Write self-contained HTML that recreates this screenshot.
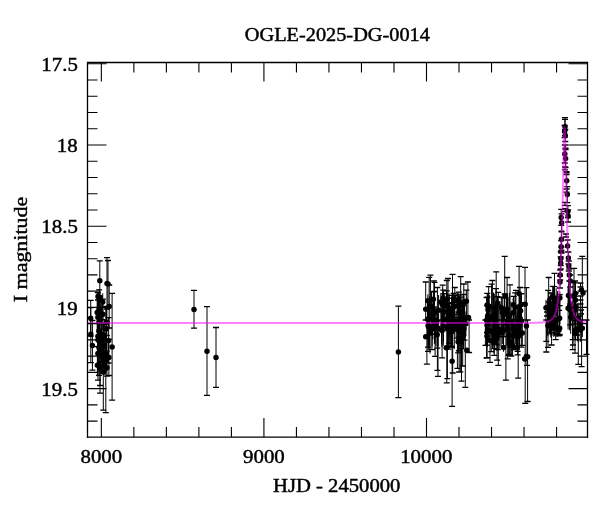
<!DOCTYPE html><html><head><meta charset="utf-8"><style>html,body{margin:0;padding:0;background:#fff;width:600px;height:512px;overflow:hidden}svg{display:block}text{font-family:"Liberation Serif",serif;fill:#000;stroke:#000;stroke-width:0.45}</style></head><body><svg width="600" height="512" viewBox="0 0 600 512"><rect width="600" height="512" fill="#fff"/><path d="M194.00,290.40V328.20M207.00,306.60V395.30M216.00,327.50V387.30M398.40,306.20V397.70M99.80,260.90V300.50M107.00,257.60V309.20M108.00,260.50V307.50M112.10,293.40V400.10M90.70,300.40V336.00M90.80,307.60V362.60M92.40,320.50V370.20M108.60,317.60V363.00M108.90,339.30V375.50M109.20,285.00V328.00M103.30,333.90V410.10M105.80,307.30V412.70M100.00,307.00V393.10M100.00,305.00V385.50M98.00,300.00V380.20M98.85,307.57V354.24M103.54,323.95V353.62M102.19,319.67V361.66M106.98,340.55V376.11M106.80,308.89V335.52M97.87,292.55V346.63M99.13,289.97V337.54M106.59,306.42V351.11M98.97,336.33V375.47M102.96,299.14V329.46M102.59,333.72V372.50M430.40,275.20V320.00M429.20,277.40V320.00M425.70,282.00V320.00M433.90,280.90V320.00M434.50,282.30V320.00M437.40,287.50V320.00M442.70,285.20V320.00M448.00,278.50V320.00M446.80,280.50V320.00M452.50,274.40V320.00M454.80,287.50V320.00M460.70,276.60V320.00M463.80,284.00V320.00M467.90,282.00V320.00M426.90,320.00V364.20M428.00,320.00V347.20M428.00,320.00V351.30M435.10,320.00V356.30M437.40,320.00V370.30M442.10,320.00V357.80M452.70,320.00V373.00M457.40,320.00V368.30M462.70,320.00V366.00M469.10,320.00V352.50M460.30,320.00V371.90M438.00,320.00V376.40M447.40,320.00V378.70M446.80,320.00V382.80M452.10,320.00V406.30M461.50,320.00V381.10M465.30,320.00V387.30M459.10,320.00V372.00M460.57,297.03V326.61M431.95,304.48V349.68M451.80,302.62V333.17M448.59,303.90V349.17M457.04,306.49V338.21M453.66,293.40V314.59M449.10,295.36V343.39M450.58,306.41V346.10M451.48,298.22V346.48M458.90,304.59V337.20M458.80,292.10V317.73M433.37,291.89V326.39M463.16,294.52V331.48M453.60,295.12V322.64M451.88,306.23V347.26M444.24,293.71V318.35M454.49,295.91V321.73M446.69,290.96V320.60M459.08,294.80V331.86M466.39,290.04V319.65M434.45,291.51V334.24M461.39,303.36V348.62M443.25,290.11V329.84M464.53,300.15V340.14M458.14,304.19V352.96M458.86,312.39V350.77M437.20,321.19V348.07M504.70,256.40V320.00M496.20,271.90V320.00M519.10,266.40V320.00M525.00,267.40V320.00M492.40,280.50V320.00M491.60,284.20V320.00M488.70,286.60V320.00M507.10,277.50V320.00M510.00,284.80V320.00M520.00,287.50V320.00M526.40,287.70V320.00M496.00,288.70V320.00M498.30,292.40V320.00M515.90,290.40V320.00M486.60,297.50V320.00M504.70,294.00V320.00M485.40,320.00V345.40M486.60,320.00V358.00M490.00,320.00V362.40M491.20,320.00V351.70M494.80,320.00V348.60M497.10,320.00V360.10M507.70,320.00V358.90M508.80,320.00V355.40M511.20,320.00V356.00M517.60,320.00V351.30M522.30,320.00V345.40M487.10,320.00V357.60M498.30,320.00V365.30M505.90,320.00V380.20M518.20,320.00V378.10M525.20,320.00V403.30M527.60,320.00V401.50M527.00,320.00V365.30M487.57,297.04V335.98M518.65,305.68V336.11M521.37,293.77V347.11M487.19,293.29V332.59M487.06,305.51V345.18M501.33,297.08V336.76M520.17,304.95V332.00M515.15,292.96V323.38M497.51,296.71V324.62M502.29,297.52V327.99M513.54,296.30V319.79M513.89,305.86V349.66M496.38,310.70V344.52M497.74,304.72V349.61M504.20,297.91V336.61M517.58,307.16V354.90M508.92,316.48V354.41M494.27,320.22V355.44M510.92,321.74V355.83M509.65,321.66V355.26M548.70,277.50V320.00M554.50,273.40V320.00M548.10,290.40V320.00M546.30,320.00V352.00M546.30,320.00V341.40M548.00,320.00V347.30M551.60,320.00V345.00M555.70,320.00V339.70M557.40,320.00V333.80M559.62,294.75V335.40M556.03,297.62V333.72M559.05,310.33V335.92M554.32,286.64V318.24M559.66,305.68V334.41M552.83,286.45V317.82M551.00,293.00V297.00M556.00,297.00V301.00M549.00,302.00V306.00M553.00,307.00V311.00M547.00,312.00V316.00M552.00,318.00V322.00M550.56,299.11V332.61M574.00,268.30V320.00M575.00,281.00V320.00M582.30,256.30V320.00M572.70,320.00V339.70M572.70,320.00V349.60M575.00,320.00V353.10M578.30,320.00V364.30M581.60,320.00V366.60M577.00,320.00V335.00M573.00,320.00V345.00M586.50,320.00V354.30M570.20,294.99V324.80M575.42,282.78V318.18M574.41,296.64V324.16M573.02,282.06V317.45M575.38,308.85V339.56M576.05,292.95V320.75M580.50,283.00V287.00M580.50,296.00V300.00M580.50,300.00V304.00M581.00,310.00V314.00M580.00,316.00V320.00M579.50,324.00V328.00M565.00,117.70V135.70M564.60,125.50V137.50M565.30,129.50V141.50M564.80,145.00V163.00M565.60,149.50V167.50M566.70,172.80V188.80M567.30,186.60V202.60M567.90,205.60V217.60M568.10,210.00V222.00M561.20,209.40V225.40M561.60,213.80V231.80M561.40,231.20V247.20M561.20,240.70V252.70M567.60,240.00V252.00M560.80,251.50V265.50M568.40,252.00V264.00M560.70,257.00V269.00M568.80,261.00V271.00M560.20,270.00V280.00M569.30,269.00V281.00M560.00,276.00V288.00M570.30,275.00V287.00M565.00,119.30V130.00M565.50,145.20V148.20M565.00,166.90V169.90M566.50,171.60V174.60M566.50,189.20V192.20M565.00,202.30V205.30M565.00,208.60V211.60M566.00,234.00V237.00M561.50,250.10V253.10M101.52,305.91V363.18M97.91,329.05V372.11M98.90,297.85V322.93M99.89,290.40V323.13M106.58,344.39V368.41M98.01,289.07V322.90M98.91,333.27V361.98M99.13,292.82V341.98M99.11,294.59V349.34M97.90,319.91V352.66M106.08,337.66V370.64M97.39,348.87V376.46M97.17,292.44V332.48M102.72,293.35V320.52M103.91,321.89V350.94M104.01,352.79V375.11M100.19,354.60V373.58M104.37,319.20V371.76M106.01,338.69V372.82M442.24,295.48V319.29M449.12,293.46V334.98M453.19,305.28V331.42M460.64,294.39V328.84M432.84,300.71V339.37M427.87,294.37V321.11M428.58,299.31V349.34M432.11,304.21V346.35M460.94,314.27V345.60M443.42,291.66V341.62M438.08,310.44V346.17M436.13,306.21V334.47M456.11,310.92V337.50M454.27,300.88V349.09M434.30,299.77V326.37M429.17,300.83V349.84M434.82,307.11V342.71M435.87,306.17V346.07M428.08,308.77V342.53M442.43,293.52V324.19M449.71,306.53V337.36M459.11,306.82V346.62M429.67,296.07V345.49M460.47,295.84V331.26M462.85,299.57V344.90M440.83,292.83V330.25M446.35,293.19V329.44M460.82,314.32V346.73M427.49,303.12V335.53M445.01,306.90V332.26M433.92,297.57V324.74M462.73,301.78V345.12M465.88,311.42V336.00M463.92,300.96V347.69M441.82,301.85V346.88M449.22,303.52V349.46M441.59,315.56V344.31M447.38,292.88V329.27M457.55,292.68V315.05M431.47,291.44V323.12M447.61,306.90V345.98M463.98,296.32V338.45M443.33,296.77V345.73M438.61,295.02V330.08M434.41,297.16V343.87M443.08,293.25V318.52M452.02,313.45V347.35M461.12,311.80V350.99M429.96,309.48V353.68M463.46,321.72V349.05M458.06,320.02V352.73M495.52,304.17V334.00M519.42,296.39V344.52M507.51,294.42V343.63M487.99,296.89V330.41M499.85,301.18V348.84M502.34,311.35V344.08M515.91,308.47V344.08M513.71,296.98V345.28M519.62,302.76V345.12M516.07,319.39V344.38M507.30,293.86V345.63M494.46,324.22V346.79M509.39,292.67V342.17M487.39,300.90V346.66M520.58,296.01V335.43M487.59,312.44V344.08M501.10,313.63V346.57M511.01,301.64V340.36M513.78,299.60V325.36M487.11,322.93V346.79M491.95,314.41V344.44M506.87,295.77V346.31M492.59,310.20V349.07M521.43,295.39V325.60M508.13,296.92V347.86M503.51,309.25V349.90M493.50,292.50V344.06M506.52,301.98V327.12M489.18,294.92V318.63M507.22,308.21V344.97M487.92,294.09V336.48M513.34,303.41V346.33M513.80,320.44V347.90M494.57,309.38V344.05M493.92,297.33V335.62M488.05,293.02V324.45M490.31,305.97V330.27M516.26,315.07V348.61M495.01,308.66V344.77M496.85,299.98V345.70M487.63,305.92V336.13M494.70,293.64V330.59M494.72,307.96V344.00M513.15,298.25V327.31M506.87,296.82V321.61M519.35,310.65V350.35M496.92,312.56V350.86M516.86,324.95V350.71M493.86,325.26V353.42M512.33,330.45V350.88M503.59,320.75V351.88M512.59,325.17V355.54M554.43,287.92V336.07M554.32,287.98V324.95M557.47,291.88V320.52M553.30,288.21V310.01M550.83,292.51V335.07M553.17,286.61V316.21M556.17,288.21V336.71M559.87,291.63V323.74M553.85,300.33V336.93M557.60,291.05V316.78M550.79,298.91V337.48M545.98,299.77V321.00M547.89,297.97V336.36M557.65,300.29V336.63M549.44,296.71V334.53M552.95,308.87V335.78M549.52,300.40V333.82M547.61,300.94V335.27M557.46,298.41V321.77M575.35,281.43V322.95M568.10,286.82V329.49M568.44,283.27V308.84M569.61,281.68V330.33M572.18,301.13V325.62M575.15,306.22V338.61M570.09,282.06V329.41M570.68,300.52V333.86M575.33,313.40V340.59M580.29,304.01V341.90M582.34,301.86V337.08M577.33,310.06V341.50M577.77,302.78V340.72" stroke="#000" stroke-width="1.0" fill="none"/><path d="M191.00,290.40h6M191.00,328.20h6M204.00,306.60h6M204.00,395.30h6M213.00,327.50h6M213.00,387.30h6M395.40,306.20h6M395.40,397.70h6M96.80,260.90h6M96.80,300.50h6M104.00,257.60h6M104.00,309.20h6M105.00,260.50h6M105.00,307.50h6M109.10,293.40h6M109.10,400.10h6M87.70,300.40h6M87.70,336.00h6M87.80,307.60h6M87.80,362.60h6M89.40,320.50h6M89.40,370.20h6M105.60,317.60h6M105.60,363.00h6M105.90,339.30h6M105.90,375.50h6M106.20,285.00h6M106.20,328.00h6M100.30,333.90h6M100.30,410.10h6M102.80,307.30h6M102.80,412.70h6M97.00,307.00h6M97.00,393.10h6M97.00,305.00h6M97.00,385.50h6M95.00,300.00h6M95.00,380.20h6M95.85,307.57h6M95.85,354.24h6M100.54,323.95h6M100.54,353.62h6M99.19,319.67h6M99.19,361.66h6M103.98,340.55h6M103.98,376.11h6M103.80,308.89h6M103.80,335.52h6M94.87,292.55h6M94.87,346.63h6M96.13,289.97h6M96.13,337.54h6M103.59,306.42h6M103.59,351.11h6M95.97,336.33h6M95.97,375.47h6M99.96,299.14h6M99.96,329.46h6M99.59,333.72h6M99.59,372.50h6M427.40,275.20h6M427.40,320.00h6M426.20,277.40h6M426.20,320.00h6M422.70,282.00h6M422.70,320.00h6M430.90,280.90h6M430.90,320.00h6M431.50,282.30h6M431.50,320.00h6M434.40,287.50h6M434.40,320.00h6M439.70,285.20h6M439.70,320.00h6M445.00,278.50h6M445.00,320.00h6M443.80,280.50h6M443.80,320.00h6M449.50,274.40h6M449.50,320.00h6M451.80,287.50h6M451.80,320.00h6M457.70,276.60h6M457.70,320.00h6M460.80,284.00h6M460.80,320.00h6M464.90,282.00h6M464.90,320.00h6M423.90,320.00h6M423.90,364.20h6M425.00,320.00h6M425.00,347.20h6M425.00,320.00h6M425.00,351.30h6M432.10,320.00h6M432.10,356.30h6M434.40,320.00h6M434.40,370.30h6M439.10,320.00h6M439.10,357.80h6M449.70,320.00h6M449.70,373.00h6M454.40,320.00h6M454.40,368.30h6M459.70,320.00h6M459.70,366.00h6M466.10,320.00h6M466.10,352.50h6M457.30,320.00h6M457.30,371.90h6M435.00,320.00h6M435.00,376.40h6M444.40,320.00h6M444.40,378.70h6M443.80,320.00h6M443.80,382.80h6M449.10,320.00h6M449.10,406.30h6M458.50,320.00h6M458.50,381.10h6M462.30,320.00h6M462.30,387.30h6M456.10,320.00h6M456.10,372.00h6M457.57,297.03h6M457.57,326.61h6M428.95,304.48h6M428.95,349.68h6M448.80,302.62h6M448.80,333.17h6M445.59,303.90h6M445.59,349.17h6M454.04,306.49h6M454.04,338.21h6M450.66,293.40h6M450.66,314.59h6M446.10,295.36h6M446.10,343.39h6M447.58,306.41h6M447.58,346.10h6M448.48,298.22h6M448.48,346.48h6M455.90,304.59h6M455.90,337.20h6M455.80,292.10h6M455.80,317.73h6M430.37,291.89h6M430.37,326.39h6M460.16,294.52h6M460.16,331.48h6M450.60,295.12h6M450.60,322.64h6M448.88,306.23h6M448.88,347.26h6M441.24,293.71h6M441.24,318.35h6M451.49,295.91h6M451.49,321.73h6M443.69,290.96h6M443.69,320.60h6M456.08,294.80h6M456.08,331.86h6M463.39,290.04h6M463.39,319.65h6M431.45,291.51h6M431.45,334.24h6M458.39,303.36h6M458.39,348.62h6M440.25,290.11h6M440.25,329.84h6M461.53,300.15h6M461.53,340.14h6M455.14,304.19h6M455.14,352.96h6M455.86,312.39h6M455.86,350.77h6M434.20,321.19h6M434.20,348.07h6M501.70,256.40h6M501.70,320.00h6M493.20,271.90h6M493.20,320.00h6M516.10,266.40h6M516.10,320.00h6M522.00,267.40h6M522.00,320.00h6M489.40,280.50h6M489.40,320.00h6M488.60,284.20h6M488.60,320.00h6M485.70,286.60h6M485.70,320.00h6M504.10,277.50h6M504.10,320.00h6M507.00,284.80h6M507.00,320.00h6M517.00,287.50h6M517.00,320.00h6M523.40,287.70h6M523.40,320.00h6M493.00,288.70h6M493.00,320.00h6M495.30,292.40h6M495.30,320.00h6M512.90,290.40h6M512.90,320.00h6M483.60,297.50h6M483.60,320.00h6M501.70,294.00h6M501.70,320.00h6M482.40,320.00h6M482.40,345.40h6M483.60,320.00h6M483.60,358.00h6M487.00,320.00h6M487.00,362.40h6M488.20,320.00h6M488.20,351.70h6M491.80,320.00h6M491.80,348.60h6M494.10,320.00h6M494.10,360.10h6M504.70,320.00h6M504.70,358.90h6M505.80,320.00h6M505.80,355.40h6M508.20,320.00h6M508.20,356.00h6M514.60,320.00h6M514.60,351.30h6M519.30,320.00h6M519.30,345.40h6M484.10,320.00h6M484.10,357.60h6M495.30,320.00h6M495.30,365.30h6M502.90,320.00h6M502.90,380.20h6M515.20,320.00h6M515.20,378.10h6M522.20,320.00h6M522.20,403.30h6M524.60,320.00h6M524.60,401.50h6M524.00,320.00h6M524.00,365.30h6M484.57,297.04h6M484.57,335.98h6M515.65,305.68h6M515.65,336.11h6M518.37,293.77h6M518.37,347.11h6M484.19,293.29h6M484.19,332.59h6M484.06,305.51h6M484.06,345.18h6M498.33,297.08h6M498.33,336.76h6M517.17,304.95h6M517.17,332.00h6M512.15,292.96h6M512.15,323.38h6M494.51,296.71h6M494.51,324.62h6M499.29,297.52h6M499.29,327.99h6M510.54,296.30h6M510.54,319.79h6M510.89,305.86h6M510.89,349.66h6M493.38,310.70h6M493.38,344.52h6M494.74,304.72h6M494.74,349.61h6M501.20,297.91h6M501.20,336.61h6M514.58,307.16h6M514.58,354.90h6M505.92,316.48h6M505.92,354.41h6M491.27,320.22h6M491.27,355.44h6M507.92,321.74h6M507.92,355.83h6M506.65,321.66h6M506.65,355.26h6M545.70,277.50h6M545.70,320.00h6M551.50,273.40h6M551.50,320.00h6M545.10,290.40h6M545.10,320.00h6M543.30,320.00h6M543.30,352.00h6M543.30,320.00h6M543.30,341.40h6M545.00,320.00h6M545.00,347.30h6M548.60,320.00h6M548.60,345.00h6M552.70,320.00h6M552.70,339.70h6M554.40,320.00h6M554.40,333.80h6M556.62,294.75h6M556.62,335.40h6M553.03,297.62h6M553.03,333.72h6M556.05,310.33h6M556.05,335.92h6M551.32,286.64h6M551.32,318.24h6M556.66,305.68h6M556.66,334.41h6M549.83,286.45h6M549.83,317.82h6M548.00,293.00h6M548.00,297.00h6M553.00,297.00h6M553.00,301.00h6M546.00,302.00h6M546.00,306.00h6M550.00,307.00h6M550.00,311.00h6M544.00,312.00h6M544.00,316.00h6M549.00,318.00h6M549.00,322.00h6M547.56,299.11h6M547.56,332.61h6M571.00,268.30h6M571.00,320.00h6M572.00,281.00h6M572.00,320.00h6M579.30,256.30h6M579.30,320.00h6M569.70,320.00h6M569.70,339.70h6M569.70,320.00h6M569.70,349.60h6M572.00,320.00h6M572.00,353.10h6M575.30,320.00h6M575.30,364.30h6M578.60,320.00h6M578.60,366.60h6M574.00,320.00h6M574.00,335.00h6M570.00,320.00h6M570.00,345.00h6M583.50,320.00h6M583.50,354.30h6M567.20,294.99h6M567.20,324.80h6M572.42,282.78h6M572.42,318.18h6M571.41,296.64h6M571.41,324.16h6M570.02,282.06h6M570.02,317.45h6M572.38,308.85h6M572.38,339.56h6M573.05,292.95h6M573.05,320.75h6M577.50,283.00h6M577.50,287.00h6M577.50,296.00h6M577.50,300.00h6M577.50,300.00h6M577.50,304.00h6M578.00,310.00h6M578.00,314.00h6M577.00,316.00h6M577.00,320.00h6M576.50,324.00h6M576.50,328.00h6M562.00,117.70h6M562.00,135.70h6M561.60,125.50h6M561.60,137.50h6M562.30,129.50h6M562.30,141.50h6M561.80,145.00h6M561.80,163.00h6M562.60,149.50h6M562.60,167.50h6M563.70,172.80h6M563.70,188.80h6M564.30,186.60h6M564.30,202.60h6M564.90,205.60h6M564.90,217.60h6M565.10,210.00h6M565.10,222.00h6M558.20,209.40h6M558.20,225.40h6M558.60,213.80h6M558.60,231.80h6M558.40,231.20h6M558.40,247.20h6M558.20,240.70h6M558.20,252.70h6M564.60,240.00h6M564.60,252.00h6M557.80,251.50h6M557.80,265.50h6M565.40,252.00h6M565.40,264.00h6M557.70,257.00h6M557.70,269.00h6M565.80,261.00h6M565.80,271.00h6M557.20,270.00h6M557.20,280.00h6M566.30,269.00h6M566.30,281.00h6M557.00,276.00h6M557.00,288.00h6M567.30,275.00h6M567.30,287.00h6M562.00,119.30h6M562.00,130.00h6M562.50,145.20h6M562.50,148.20h6M562.00,166.90h6M562.00,169.90h6M563.50,171.60h6M563.50,174.60h6M563.50,189.20h6M563.50,192.20h6M562.00,202.30h6M562.00,205.30h6M562.00,208.60h6M562.00,211.60h6M563.00,234.00h6M563.00,237.00h6M558.50,250.10h6M558.50,253.10h6" stroke="#000" stroke-width="1.3" fill="none"/><path d="M191.25,309.40a2.75,2.75 0 1,0 5.5,0a2.75,2.75 0 1,0 -5.5,0M204.25,351.20a2.75,2.75 0 1,0 5.5,0a2.75,2.75 0 1,0 -5.5,0M213.25,357.50a2.75,2.75 0 1,0 5.5,0a2.75,2.75 0 1,0 -5.5,0M395.65,351.90a2.75,2.75 0 1,0 5.5,0a2.75,2.75 0 1,0 -5.5,0M97.05,280.70a2.75,2.75 0 1,0 5.5,0a2.75,2.75 0 1,0 -5.5,0M104.25,283.40a2.75,2.75 0 1,0 5.5,0a2.75,2.75 0 1,0 -5.5,0M105.25,284.00a2.75,2.75 0 1,0 5.5,0a2.75,2.75 0 1,0 -5.5,0M109.35,346.90a2.75,2.75 0 1,0 5.5,0a2.75,2.75 0 1,0 -5.5,0M87.95,318.20a2.75,2.75 0 1,0 5.5,0a2.75,2.75 0 1,0 -5.5,0M88.05,334.20a2.75,2.75 0 1,0 5.5,0a2.75,2.75 0 1,0 -5.5,0M89.65,345.50a2.75,2.75 0 1,0 5.5,0a2.75,2.75 0 1,0 -5.5,0M105.85,340.40a2.75,2.75 0 1,0 5.5,0a2.75,2.75 0 1,0 -5.5,0M106.15,357.40a2.75,2.75 0 1,0 5.5,0a2.75,2.75 0 1,0 -5.5,0M106.45,306.40a2.75,2.75 0 1,0 5.5,0a2.75,2.75 0 1,0 -5.5,0M100.55,372.00a2.75,2.75 0 1,0 5.5,0a2.75,2.75 0 1,0 -5.5,0M103.05,360.00a2.75,2.75 0 1,0 5.5,0a2.75,2.75 0 1,0 -5.5,0M97.25,350.00a2.75,2.75 0 1,0 5.5,0a2.75,2.75 0 1,0 -5.5,0M97.25,345.00a2.75,2.75 0 1,0 5.5,0a2.75,2.75 0 1,0 -5.5,0M95.25,340.00a2.75,2.75 0 1,0 5.5,0a2.75,2.75 0 1,0 -5.5,0M98.77,334.54a2.75,2.75 0 1,0 5.5,0a2.75,2.75 0 1,0 -5.5,0M96.10,330.91a2.75,2.75 0 1,0 5.5,0a2.75,2.75 0 1,0 -5.5,0M95.16,353.53a2.75,2.75 0 1,0 5.5,0a2.75,2.75 0 1,0 -5.5,0M100.79,338.78a2.75,2.75 0 1,0 5.5,0a2.75,2.75 0 1,0 -5.5,0M96.15,310.39a2.75,2.75 0 1,0 5.5,0a2.75,2.75 0 1,0 -5.5,0M99.44,340.66a2.75,2.75 0 1,0 5.5,0a2.75,2.75 0 1,0 -5.5,0M104.23,367.67a2.75,2.75 0 1,0 5.5,0a2.75,2.75 0 1,0 -5.5,0M97.14,297.34a2.75,2.75 0 1,0 5.5,0a2.75,2.75 0 1,0 -5.5,0M103.83,356.40a2.75,2.75 0 1,0 5.5,0a2.75,2.75 0 1,0 -5.5,0M104.05,322.20a2.75,2.75 0 1,0 5.5,0a2.75,2.75 0 1,0 -5.5,0M95.12,317.28a2.75,2.75 0 1,0 5.5,0a2.75,2.75 0 1,0 -5.5,0M95.26,296.55a2.75,2.75 0 1,0 5.5,0a2.75,2.75 0 1,0 -5.5,0M96.16,347.62a2.75,2.75 0 1,0 5.5,0a2.75,2.75 0 1,0 -5.5,0M96.38,312.50a2.75,2.75 0 1,0 5.5,0a2.75,2.75 0 1,0 -5.5,0M96.36,321.96a2.75,2.75 0 1,0 5.5,0a2.75,2.75 0 1,0 -5.5,0M96.38,311.63a2.75,2.75 0 1,0 5.5,0a2.75,2.75 0 1,0 -5.5,0M95.15,336.29a2.75,2.75 0 1,0 5.5,0a2.75,2.75 0 1,0 -5.5,0M103.84,328.76a2.75,2.75 0 1,0 5.5,0a2.75,2.75 0 1,0 -5.5,0M103.33,354.15a2.75,2.75 0 1,0 5.5,0a2.75,2.75 0 1,0 -5.5,0M96.22,364.21a2.75,2.75 0 1,0 5.5,0a2.75,2.75 0 1,0 -5.5,0M94.64,365.16a2.75,2.75 0 1,0 5.5,0a2.75,2.75 0 1,0 -5.5,0M100.21,314.30a2.75,2.75 0 1,0 5.5,0a2.75,2.75 0 1,0 -5.5,0M99.84,356.78a2.75,2.75 0 1,0 5.5,0a2.75,2.75 0 1,0 -5.5,0M94.42,312.46a2.75,2.75 0 1,0 5.5,0a2.75,2.75 0 1,0 -5.5,0M99.97,302.00a2.75,2.75 0 1,0 5.5,0a2.75,2.75 0 1,0 -5.5,0M101.16,336.42a2.75,2.75 0 1,0 5.5,0a2.75,2.75 0 1,0 -5.5,0M101.26,365.17a2.75,2.75 0 1,0 5.5,0a2.75,2.75 0 1,0 -5.5,0M97.44,367.95a2.75,2.75 0 1,0 5.5,0a2.75,2.75 0 1,0 -5.5,0M101.62,345.48a2.75,2.75 0 1,0 5.5,0a2.75,2.75 0 1,0 -5.5,0M103.26,358.20a2.75,2.75 0 1,0 5.5,0a2.75,2.75 0 1,0 -5.5,0M422.95,309.20a2.75,2.75 0 1,0 5.5,0a2.75,2.75 0 1,0 -5.5,0M465.75,317.40a2.75,2.75 0 1,0 5.5,0a2.75,2.75 0 1,0 -5.5,0M422.95,336.70a2.75,2.75 0 1,0 5.5,0a2.75,2.75 0 1,0 -5.5,0M449.35,361.30a2.75,2.75 0 1,0 5.5,0a2.75,2.75 0 1,0 -5.5,0M443.45,347.80a2.75,2.75 0 1,0 5.5,0a2.75,2.75 0 1,0 -5.5,0M464.05,350.20a2.75,2.75 0 1,0 5.5,0a2.75,2.75 0 1,0 -5.5,0M439.49,304.31a2.75,2.75 0 1,0 5.5,0a2.75,2.75 0 1,0 -5.5,0M446.37,309.81a2.75,2.75 0 1,0 5.5,0a2.75,2.75 0 1,0 -5.5,0M457.82,311.82a2.75,2.75 0 1,0 5.5,0a2.75,2.75 0 1,0 -5.5,0M450.44,318.35a2.75,2.75 0 1,0 5.5,0a2.75,2.75 0 1,0 -5.5,0M457.89,303.77a2.75,2.75 0 1,0 5.5,0a2.75,2.75 0 1,0 -5.5,0M429.20,328.88a2.75,2.75 0 1,0 5.5,0a2.75,2.75 0 1,0 -5.5,0M449.05,317.90a2.75,2.75 0 1,0 5.5,0a2.75,2.75 0 1,0 -5.5,0M430.09,320.04a2.75,2.75 0 1,0 5.5,0a2.75,2.75 0 1,0 -5.5,0M425.12,300.86a2.75,2.75 0 1,0 5.5,0a2.75,2.75 0 1,0 -5.5,0M445.84,327.69a2.75,2.75 0 1,0 5.5,0a2.75,2.75 0 1,0 -5.5,0M425.83,327.05a2.75,2.75 0 1,0 5.5,0a2.75,2.75 0 1,0 -5.5,0M429.36,328.01a2.75,2.75 0 1,0 5.5,0a2.75,2.75 0 1,0 -5.5,0M458.19,330.62a2.75,2.75 0 1,0 5.5,0a2.75,2.75 0 1,0 -5.5,0M440.67,312.20a2.75,2.75 0 1,0 5.5,0a2.75,2.75 0 1,0 -5.5,0M435.33,328.31a2.75,2.75 0 1,0 5.5,0a2.75,2.75 0 1,0 -5.5,0M454.29,322.35a2.75,2.75 0 1,0 5.5,0a2.75,2.75 0 1,0 -5.5,0M450.91,298.32a2.75,2.75 0 1,0 5.5,0a2.75,2.75 0 1,0 -5.5,0M433.38,320.34a2.75,2.75 0 1,0 5.5,0a2.75,2.75 0 1,0 -5.5,0M446.35,313.92a2.75,2.75 0 1,0 5.5,0a2.75,2.75 0 1,0 -5.5,0M447.83,329.90a2.75,2.75 0 1,0 5.5,0a2.75,2.75 0 1,0 -5.5,0M453.36,324.21a2.75,2.75 0 1,0 5.5,0a2.75,2.75 0 1,0 -5.5,0M451.52,329.19a2.75,2.75 0 1,0 5.5,0a2.75,2.75 0 1,0 -5.5,0M448.73,325.86a2.75,2.75 0 1,0 5.5,0a2.75,2.75 0 1,0 -5.5,0M456.15,320.90a2.75,2.75 0 1,0 5.5,0a2.75,2.75 0 1,0 -5.5,0M431.55,313.07a2.75,2.75 0 1,0 5.5,0a2.75,2.75 0 1,0 -5.5,0M426.42,325.73a2.75,2.75 0 1,0 5.5,0a2.75,2.75 0 1,0 -5.5,0M432.07,324.91a2.75,2.75 0 1,0 5.5,0a2.75,2.75 0 1,0 -5.5,0M433.12,327.42a2.75,2.75 0 1,0 5.5,0a2.75,2.75 0 1,0 -5.5,0M425.33,325.65a2.75,2.75 0 1,0 5.5,0a2.75,2.75 0 1,0 -5.5,0M439.68,302.70a2.75,2.75 0 1,0 5.5,0a2.75,2.75 0 1,0 -5.5,0M446.96,321.95a2.75,2.75 0 1,0 5.5,0a2.75,2.75 0 1,0 -5.5,0M456.36,326.72a2.75,2.75 0 1,0 5.5,0a2.75,2.75 0 1,0 -5.5,0M426.92,326.07a2.75,2.75 0 1,0 5.5,0a2.75,2.75 0 1,0 -5.5,0M456.05,299.06a2.75,2.75 0 1,0 5.5,0a2.75,2.75 0 1,0 -5.5,0M430.62,299.22a2.75,2.75 0 1,0 5.5,0a2.75,2.75 0 1,0 -5.5,0M457.72,303.02a2.75,2.75 0 1,0 5.5,0a2.75,2.75 0 1,0 -5.5,0M460.10,328.92a2.75,2.75 0 1,0 5.5,0a2.75,2.75 0 1,0 -5.5,0M438.08,302.05a2.75,2.75 0 1,0 5.5,0a2.75,2.75 0 1,0 -5.5,0M443.60,305.09a2.75,2.75 0 1,0 5.5,0a2.75,2.75 0 1,0 -5.5,0M460.41,304.85a2.75,2.75 0 1,0 5.5,0a2.75,2.75 0 1,0 -5.5,0M450.85,306.13a2.75,2.75 0 1,0 5.5,0a2.75,2.75 0 1,0 -5.5,0M458.07,331.82a2.75,2.75 0 1,0 5.5,0a2.75,2.75 0 1,0 -5.5,0M424.74,319.33a2.75,2.75 0 1,0 5.5,0a2.75,2.75 0 1,0 -5.5,0M442.26,319.58a2.75,2.75 0 1,0 5.5,0a2.75,2.75 0 1,0 -5.5,0M431.17,311.16a2.75,2.75 0 1,0 5.5,0a2.75,2.75 0 1,0 -5.5,0M449.13,331.34a2.75,2.75 0 1,0 5.5,0a2.75,2.75 0 1,0 -5.5,0M459.98,328.26a2.75,2.75 0 1,0 5.5,0a2.75,2.75 0 1,0 -5.5,0M463.13,323.71a2.75,2.75 0 1,0 5.5,0a2.75,2.75 0 1,0 -5.5,0M441.49,305.74a2.75,2.75 0 1,0 5.5,0a2.75,2.75 0 1,0 -5.5,0M461.17,328.52a2.75,2.75 0 1,0 5.5,0a2.75,2.75 0 1,0 -5.5,0M439.07,330.40a2.75,2.75 0 1,0 5.5,0a2.75,2.75 0 1,0 -5.5,0M451.74,306.41a2.75,2.75 0 1,0 5.5,0a2.75,2.75 0 1,0 -5.5,0M443.94,299.18a2.75,2.75 0 1,0 5.5,0a2.75,2.75 0 1,0 -5.5,0M456.33,305.67a2.75,2.75 0 1,0 5.5,0a2.75,2.75 0 1,0 -5.5,0M463.64,301.33a2.75,2.75 0 1,0 5.5,0a2.75,2.75 0 1,0 -5.5,0M446.47,329.59a2.75,2.75 0 1,0 5.5,0a2.75,2.75 0 1,0 -5.5,0M438.84,330.18a2.75,2.75 0 1,0 5.5,0a2.75,2.75 0 1,0 -5.5,0M431.70,312.47a2.75,2.75 0 1,0 5.5,0a2.75,2.75 0 1,0 -5.5,0M444.63,310.97a2.75,2.75 0 1,0 5.5,0a2.75,2.75 0 1,0 -5.5,0M454.80,301.33a2.75,2.75 0 1,0 5.5,0a2.75,2.75 0 1,0 -5.5,0M458.64,330.06a2.75,2.75 0 1,0 5.5,0a2.75,2.75 0 1,0 -5.5,0M428.72,306.43a2.75,2.75 0 1,0 5.5,0a2.75,2.75 0 1,0 -5.5,0M444.86,328.39a2.75,2.75 0 1,0 5.5,0a2.75,2.75 0 1,0 -5.5,0M461.23,317.38a2.75,2.75 0 1,0 5.5,0a2.75,2.75 0 1,0 -5.5,0M440.50,300.70a2.75,2.75 0 1,0 5.5,0a2.75,2.75 0 1,0 -5.5,0M440.58,326.12a2.75,2.75 0 1,0 5.5,0a2.75,2.75 0 1,0 -5.5,0M435.86,310.28a2.75,2.75 0 1,0 5.5,0a2.75,2.75 0 1,0 -5.5,0M431.66,320.51a2.75,2.75 0 1,0 5.5,0a2.75,2.75 0 1,0 -5.5,0M440.33,298.06a2.75,2.75 0 1,0 5.5,0a2.75,2.75 0 1,0 -5.5,0M461.78,320.15a2.75,2.75 0 1,0 5.5,0a2.75,2.75 0 1,0 -5.5,0M449.27,330.40a2.75,2.75 0 1,0 5.5,0a2.75,2.75 0 1,0 -5.5,0M458.37,331.39a2.75,2.75 0 1,0 5.5,0a2.75,2.75 0 1,0 -5.5,0M427.21,333.18a2.75,2.75 0 1,0 5.5,0a2.75,2.75 0 1,0 -5.5,0M455.39,330.10a2.75,2.75 0 1,0 5.5,0a2.75,2.75 0 1,0 -5.5,0M460.71,335.39a2.75,2.75 0 1,0 5.5,0a2.75,2.75 0 1,0 -5.5,0M455.31,341.68a2.75,2.75 0 1,0 5.5,0a2.75,2.75 0 1,0 -5.5,0M456.11,339.90a2.75,2.75 0 1,0 5.5,0a2.75,2.75 0 1,0 -5.5,0M434.45,334.63a2.75,2.75 0 1,0 5.5,0a2.75,2.75 0 1,0 -5.5,0M516.35,293.60a2.75,2.75 0 1,0 5.5,0a2.75,2.75 0 1,0 -5.5,0M522.45,304.20a2.75,2.75 0 1,0 5.5,0a2.75,2.75 0 1,0 -5.5,0M502.25,296.00a2.75,2.75 0 1,0 5.5,0a2.75,2.75 0 1,0 -5.5,0M483.85,320.20a2.75,2.75 0 1,0 5.5,0a2.75,2.75 0 1,0 -5.5,0M484.35,332.50a2.75,2.75 0 1,0 5.5,0a2.75,2.75 0 1,0 -5.5,0M486.75,340.20a2.75,2.75 0 1,0 5.5,0a2.75,2.75 0 1,0 -5.5,0M519.55,332.90a2.75,2.75 0 1,0 5.5,0a2.75,2.75 0 1,0 -5.5,0M523.65,326.10a2.75,2.75 0 1,0 5.5,0a2.75,2.75 0 1,0 -5.5,0M523.65,356.60a2.75,2.75 0 1,0 5.5,0a2.75,2.75 0 1,0 -5.5,0M521.95,358.90a2.75,2.75 0 1,0 5.5,0a2.75,2.75 0 1,0 -5.5,0M524.85,356.80a2.75,2.75 0 1,0 5.5,0a2.75,2.75 0 1,0 -5.5,0M492.77,319.08a2.75,2.75 0 1,0 5.5,0a2.75,2.75 0 1,0 -5.5,0M516.67,315.10a2.75,2.75 0 1,0 5.5,0a2.75,2.75 0 1,0 -5.5,0M504.76,313.69a2.75,2.75 0 1,0 5.5,0a2.75,2.75 0 1,0 -5.5,0M485.24,309.81a2.75,2.75 0 1,0 5.5,0a2.75,2.75 0 1,0 -5.5,0M497.10,329.86a2.75,2.75 0 1,0 5.5,0a2.75,2.75 0 1,0 -5.5,0M499.59,331.81a2.75,2.75 0 1,0 5.5,0a2.75,2.75 0 1,0 -5.5,0M513.16,331.12a2.75,2.75 0 1,0 5.5,0a2.75,2.75 0 1,0 -5.5,0M484.82,316.51a2.75,2.75 0 1,0 5.5,0a2.75,2.75 0 1,0 -5.5,0M515.90,320.89a2.75,2.75 0 1,0 5.5,0a2.75,2.75 0 1,0 -5.5,0M510.96,324.76a2.75,2.75 0 1,0 5.5,0a2.75,2.75 0 1,0 -5.5,0M516.87,324.47a2.75,2.75 0 1,0 5.5,0a2.75,2.75 0 1,0 -5.5,0M513.32,331.89a2.75,2.75 0 1,0 5.5,0a2.75,2.75 0 1,0 -5.5,0M504.55,321.31a2.75,2.75 0 1,0 5.5,0a2.75,2.75 0 1,0 -5.5,0M491.71,337.18a2.75,2.75 0 1,0 5.5,0a2.75,2.75 0 1,0 -5.5,0M518.62,320.96a2.75,2.75 0 1,0 5.5,0a2.75,2.75 0 1,0 -5.5,0M506.64,316.05a2.75,2.75 0 1,0 5.5,0a2.75,2.75 0 1,0 -5.5,0M484.64,325.09a2.75,2.75 0 1,0 5.5,0a2.75,2.75 0 1,0 -5.5,0M517.83,310.76a2.75,2.75 0 1,0 5.5,0a2.75,2.75 0 1,0 -5.5,0M484.84,329.47a2.75,2.75 0 1,0 5.5,0a2.75,2.75 0 1,0 -5.5,0M498.35,332.57a2.75,2.75 0 1,0 5.5,0a2.75,2.75 0 1,0 -5.5,0M508.26,321.00a2.75,2.75 0 1,0 5.5,0a2.75,2.75 0 1,0 -5.5,0M484.44,304.98a2.75,2.75 0 1,0 5.5,0a2.75,2.75 0 1,0 -5.5,0M511.03,312.48a2.75,2.75 0 1,0 5.5,0a2.75,2.75 0 1,0 -5.5,0M484.36,336.24a2.75,2.75 0 1,0 5.5,0a2.75,2.75 0 1,0 -5.5,0M489.20,331.35a2.75,2.75 0 1,0 5.5,0a2.75,2.75 0 1,0 -5.5,0M484.31,325.35a2.75,2.75 0 1,0 5.5,0a2.75,2.75 0 1,0 -5.5,0M504.12,324.45a2.75,2.75 0 1,0 5.5,0a2.75,2.75 0 1,0 -5.5,0M489.84,332.66a2.75,2.75 0 1,0 5.5,0a2.75,2.75 0 1,0 -5.5,0M498.58,307.82a2.75,2.75 0 1,0 5.5,0a2.75,2.75 0 1,0 -5.5,0M518.68,304.47a2.75,2.75 0 1,0 5.5,0a2.75,2.75 0 1,0 -5.5,0M505.38,319.49a2.75,2.75 0 1,0 5.5,0a2.75,2.75 0 1,0 -5.5,0M517.42,318.47a2.75,2.75 0 1,0 5.5,0a2.75,2.75 0 1,0 -5.5,0M512.40,307.34a2.75,2.75 0 1,0 5.5,0a2.75,2.75 0 1,0 -5.5,0M500.76,330.73a2.75,2.75 0 1,0 5.5,0a2.75,2.75 0 1,0 -5.5,0M494.76,303.16a2.75,2.75 0 1,0 5.5,0a2.75,2.75 0 1,0 -5.5,0M490.75,318.02a2.75,2.75 0 1,0 5.5,0a2.75,2.75 0 1,0 -5.5,0M503.77,314.55a2.75,2.75 0 1,0 5.5,0a2.75,2.75 0 1,0 -5.5,0M486.43,306.29a2.75,2.75 0 1,0 5.5,0a2.75,2.75 0 1,0 -5.5,0M499.54,312.57a2.75,2.75 0 1,0 5.5,0a2.75,2.75 0 1,0 -5.5,0M504.47,329.00a2.75,2.75 0 1,0 5.5,0a2.75,2.75 0 1,0 -5.5,0M485.17,315.29a2.75,2.75 0 1,0 5.5,0a2.75,2.75 0 1,0 -5.5,0M510.59,328.86a2.75,2.75 0 1,0 5.5,0a2.75,2.75 0 1,0 -5.5,0M510.79,304.63a2.75,2.75 0 1,0 5.5,0a2.75,2.75 0 1,0 -5.5,0M511.14,329.50a2.75,2.75 0 1,0 5.5,0a2.75,2.75 0 1,0 -5.5,0M511.05,335.41a2.75,2.75 0 1,0 5.5,0a2.75,2.75 0 1,0 -5.5,0M491.82,335.49a2.75,2.75 0 1,0 5.5,0a2.75,2.75 0 1,0 -5.5,0M491.17,316.47a2.75,2.75 0 1,0 5.5,0a2.75,2.75 0 1,0 -5.5,0M485.30,308.46a2.75,2.75 0 1,0 5.5,0a2.75,2.75 0 1,0 -5.5,0M487.56,318.12a2.75,2.75 0 1,0 5.5,0a2.75,2.75 0 1,0 -5.5,0M513.51,332.02a2.75,2.75 0 1,0 5.5,0a2.75,2.75 0 1,0 -5.5,0M492.26,329.13a2.75,2.75 0 1,0 5.5,0a2.75,2.75 0 1,0 -5.5,0M493.63,327.61a2.75,2.75 0 1,0 5.5,0a2.75,2.75 0 1,0 -5.5,0M494.10,327.29a2.75,2.75 0 1,0 5.5,0a2.75,2.75 0 1,0 -5.5,0M484.88,321.03a2.75,2.75 0 1,0 5.5,0a2.75,2.75 0 1,0 -5.5,0M491.95,308.32a2.75,2.75 0 1,0 5.5,0a2.75,2.75 0 1,0 -5.5,0M494.99,334.13a2.75,2.75 0 1,0 5.5,0a2.75,2.75 0 1,0 -5.5,0M501.45,311.44a2.75,2.75 0 1,0 5.5,0a2.75,2.75 0 1,0 -5.5,0M491.97,334.63a2.75,2.75 0 1,0 5.5,0a2.75,2.75 0 1,0 -5.5,0M510.40,312.78a2.75,2.75 0 1,0 5.5,0a2.75,2.75 0 1,0 -5.5,0M504.12,309.22a2.75,2.75 0 1,0 5.5,0a2.75,2.75 0 1,0 -5.5,0M516.60,335.71a2.75,2.75 0 1,0 5.5,0a2.75,2.75 0 1,0 -5.5,0M514.83,337.07a2.75,2.75 0 1,0 5.5,0a2.75,2.75 0 1,0 -5.5,0M506.17,335.44a2.75,2.75 0 1,0 5.5,0a2.75,2.75 0 1,0 -5.5,0M494.17,338.57a2.75,2.75 0 1,0 5.5,0a2.75,2.75 0 1,0 -5.5,0M514.11,347.32a2.75,2.75 0 1,0 5.5,0a2.75,2.75 0 1,0 -5.5,0M491.52,341.77a2.75,2.75 0 1,0 5.5,0a2.75,2.75 0 1,0 -5.5,0M508.17,345.56a2.75,2.75 0 1,0 5.5,0a2.75,2.75 0 1,0 -5.5,0M506.90,341.89a2.75,2.75 0 1,0 5.5,0a2.75,2.75 0 1,0 -5.5,0M491.11,342.79a2.75,2.75 0 1,0 5.5,0a2.75,2.75 0 1,0 -5.5,0M509.58,345.15a2.75,2.75 0 1,0 5.5,0a2.75,2.75 0 1,0 -5.5,0M500.84,347.38a2.75,2.75 0 1,0 5.5,0a2.75,2.75 0 1,0 -5.5,0M509.84,346.70a2.75,2.75 0 1,0 5.5,0a2.75,2.75 0 1,0 -5.5,0M551.68,313.15a2.75,2.75 0 1,0 5.5,0a2.75,2.75 0 1,0 -5.5,0M551.57,305.66a2.75,2.75 0 1,0 5.5,0a2.75,2.75 0 1,0 -5.5,0M556.87,318.17a2.75,2.75 0 1,0 5.5,0a2.75,2.75 0 1,0 -5.5,0M554.72,303.27a2.75,2.75 0 1,0 5.5,0a2.75,2.75 0 1,0 -5.5,0M553.28,320.92a2.75,2.75 0 1,0 5.5,0a2.75,2.75 0 1,0 -5.5,0M550.55,296.96a2.75,2.75 0 1,0 5.5,0a2.75,2.75 0 1,0 -5.5,0M556.30,329.94a2.75,2.75 0 1,0 5.5,0a2.75,2.75 0 1,0 -5.5,0M548.08,315.61a2.75,2.75 0 1,0 5.5,0a2.75,2.75 0 1,0 -5.5,0M550.42,297.13a2.75,2.75 0 1,0 5.5,0a2.75,2.75 0 1,0 -5.5,0M553.42,307.48a2.75,2.75 0 1,0 5.5,0a2.75,2.75 0 1,0 -5.5,0M557.12,298.00a2.75,2.75 0 1,0 5.5,0a2.75,2.75 0 1,0 -5.5,0M551.10,325.12a2.75,2.75 0 1,0 5.5,0a2.75,2.75 0 1,0 -5.5,0M554.85,301.05a2.75,2.75 0 1,0 5.5,0a2.75,2.75 0 1,0 -5.5,0M551.57,301.78a2.75,2.75 0 1,0 5.5,0a2.75,2.75 0 1,0 -5.5,0M556.91,328.33a2.75,2.75 0 1,0 5.5,0a2.75,2.75 0 1,0 -5.5,0M550.08,296.87a2.75,2.75 0 1,0 5.5,0a2.75,2.75 0 1,0 -5.5,0M548.04,310.23a2.75,2.75 0 1,0 5.5,0a2.75,2.75 0 1,0 -5.5,0M543.23,307.67a2.75,2.75 0 1,0 5.5,0a2.75,2.75 0 1,0 -5.5,0M545.14,325.66a2.75,2.75 0 1,0 5.5,0a2.75,2.75 0 1,0 -5.5,0M554.90,327.56a2.75,2.75 0 1,0 5.5,0a2.75,2.75 0 1,0 -5.5,0M547.81,319.88a2.75,2.75 0 1,0 5.5,0a2.75,2.75 0 1,0 -5.5,0M546.69,311.23a2.75,2.75 0 1,0 5.5,0a2.75,2.75 0 1,0 -5.5,0M550.20,327.97a2.75,2.75 0 1,0 5.5,0a2.75,2.75 0 1,0 -5.5,0M546.77,304.09a2.75,2.75 0 1,0 5.5,0a2.75,2.75 0 1,0 -5.5,0M544.86,308.31a2.75,2.75 0 1,0 5.5,0a2.75,2.75 0 1,0 -5.5,0M554.71,303.18a2.75,2.75 0 1,0 5.5,0a2.75,2.75 0 1,0 -5.5,0M578.75,290.00a2.75,2.75 0 1,0 5.5,0a2.75,2.75 0 1,0 -5.5,0M572.60,293.48a2.75,2.75 0 1,0 5.5,0a2.75,2.75 0 1,0 -5.5,0M567.45,309.89a2.75,2.75 0 1,0 5.5,0a2.75,2.75 0 1,0 -5.5,0M565.35,308.16a2.75,2.75 0 1,0 5.5,0a2.75,2.75 0 1,0 -5.5,0M565.69,295.42a2.75,2.75 0 1,0 5.5,0a2.75,2.75 0 1,0 -5.5,0M572.67,300.02a2.75,2.75 0 1,0 5.5,0a2.75,2.75 0 1,0 -5.5,0M566.86,305.91a2.75,2.75 0 1,0 5.5,0a2.75,2.75 0 1,0 -5.5,0M569.43,313.38a2.75,2.75 0 1,0 5.5,0a2.75,2.75 0 1,0 -5.5,0M572.40,333.46a2.75,2.75 0 1,0 5.5,0a2.75,2.75 0 1,0 -5.5,0M567.34,304.55a2.75,2.75 0 1,0 5.5,0a2.75,2.75 0 1,0 -5.5,0M571.66,310.40a2.75,2.75 0 1,0 5.5,0a2.75,2.75 0 1,0 -5.5,0M570.27,295.89a2.75,2.75 0 1,0 5.5,0a2.75,2.75 0 1,0 -5.5,0M567.93,317.19a2.75,2.75 0 1,0 5.5,0a2.75,2.75 0 1,0 -5.5,0M572.63,331.13a2.75,2.75 0 1,0 5.5,0a2.75,2.75 0 1,0 -5.5,0M572.58,330.05a2.75,2.75 0 1,0 5.5,0a2.75,2.75 0 1,0 -5.5,0M577.54,323.28a2.75,2.75 0 1,0 5.5,0a2.75,2.75 0 1,0 -5.5,0M579.59,328.32a2.75,2.75 0 1,0 5.5,0a2.75,2.75 0 1,0 -5.5,0M574.58,329.98a2.75,2.75 0 1,0 5.5,0a2.75,2.75 0 1,0 -5.5,0M573.30,306.85a2.75,2.75 0 1,0 5.5,0a2.75,2.75 0 1,0 -5.5,0M575.02,328.63a2.75,2.75 0 1,0 5.5,0a2.75,2.75 0 1,0 -5.5,0M580.25,293.00a2.75,2.75 0 1,0 5.5,0a2.75,2.75 0 1,0 -5.5,0M575.75,318.00a2.75,2.75 0 1,0 5.5,0a2.75,2.75 0 1,0 -5.5,0M577.75,330.00a2.75,2.75 0 1,0 5.5,0a2.75,2.75 0 1,0 -5.5,0M562.25,126.70a2.75,2.75 0 1,0 5.5,0a2.75,2.75 0 1,0 -5.5,0M561.85,131.50a2.75,2.75 0 1,0 5.5,0a2.75,2.75 0 1,0 -5.5,0M562.55,135.50a2.75,2.75 0 1,0 5.5,0a2.75,2.75 0 1,0 -5.5,0M562.05,154.00a2.75,2.75 0 1,0 5.5,0a2.75,2.75 0 1,0 -5.5,0M562.85,158.50a2.75,2.75 0 1,0 5.5,0a2.75,2.75 0 1,0 -5.5,0M563.95,180.80a2.75,2.75 0 1,0 5.5,0a2.75,2.75 0 1,0 -5.5,0M564.55,194.60a2.75,2.75 0 1,0 5.5,0a2.75,2.75 0 1,0 -5.5,0M565.15,211.60a2.75,2.75 0 1,0 5.5,0a2.75,2.75 0 1,0 -5.5,0M565.35,216.00a2.75,2.75 0 1,0 5.5,0a2.75,2.75 0 1,0 -5.5,0M558.45,217.40a2.75,2.75 0 1,0 5.5,0a2.75,2.75 0 1,0 -5.5,0M558.85,222.80a2.75,2.75 0 1,0 5.5,0a2.75,2.75 0 1,0 -5.5,0M558.65,239.20a2.75,2.75 0 1,0 5.5,0a2.75,2.75 0 1,0 -5.5,0M558.45,246.70a2.75,2.75 0 1,0 5.5,0a2.75,2.75 0 1,0 -5.5,0M564.85,246.00a2.75,2.75 0 1,0 5.5,0a2.75,2.75 0 1,0 -5.5,0M558.05,258.50a2.75,2.75 0 1,0 5.5,0a2.75,2.75 0 1,0 -5.5,0M565.65,258.00a2.75,2.75 0 1,0 5.5,0a2.75,2.75 0 1,0 -5.5,0M557.95,263.00a2.75,2.75 0 1,0 5.5,0a2.75,2.75 0 1,0 -5.5,0M566.05,266.00a2.75,2.75 0 1,0 5.5,0a2.75,2.75 0 1,0 -5.5,0M557.45,275.00a2.75,2.75 0 1,0 5.5,0a2.75,2.75 0 1,0 -5.5,0M566.55,275.00a2.75,2.75 0 1,0 5.5,0a2.75,2.75 0 1,0 -5.5,0M557.25,282.00a2.75,2.75 0 1,0 5.5,0a2.75,2.75 0 1,0 -5.5,0M567.55,281.00a2.75,2.75 0 1,0 5.5,0a2.75,2.75 0 1,0 -5.5,0" fill="#000"/><path d="M87.50,323.00 L92.50,323.00 L97.50,323.00 L102.50,323.00 L107.50,323.00 L112.50,323.00 L117.50,323.00 L122.50,323.00 L127.50,323.00 L132.50,323.00 L137.50,323.00 L142.50,323.00 L147.50,323.00 L152.50,323.00 L157.50,323.00 L162.50,323.00 L167.50,323.00 L172.50,323.00 L177.50,323.00 L182.50,323.00 L187.50,323.00 L192.50,323.00 L197.50,323.00 L202.50,323.00 L207.50,323.00 L212.50,323.00 L217.50,323.00 L222.50,323.00 L227.50,323.00 L232.50,323.00 L237.50,323.00 L242.50,323.00 L247.50,323.00 L252.50,323.00 L257.50,323.00 L262.50,323.00 L267.50,323.00 L272.50,323.00 L277.50,323.00 L282.50,323.00 L287.50,323.00 L292.50,323.00 L297.50,323.00 L302.50,323.00 L307.50,323.00 L312.50,323.00 L317.50,323.00 L322.50,323.00 L327.50,323.00 L332.50,323.00 L337.50,323.00 L342.50,323.00 L347.50,323.00 L352.50,323.00 L357.50,323.00 L362.50,323.00 L367.50,323.00 L372.50,323.00 L377.50,323.00 L382.50,323.00 L387.50,323.00 L392.50,323.00 L397.50,323.00 L402.50,323.00 L407.50,323.00 L412.50,323.00 L417.50,323.00 L422.50,323.00 L427.50,323.00 L432.50,323.00 L437.50,323.00 L442.50,323.00 L447.50,323.00 L452.50,323.00 L457.50,323.00 L462.50,323.00 L467.50,323.00 L472.50,323.00 L477.50,323.00 L482.50,323.00 L487.50,323.00 L492.50,322.99 L497.50,322.99 L502.50,322.99 L507.50,322.98 L512.50,322.98 L517.50,322.97 L522.50,322.95 L522.75,322.95 L523.00,322.95 L523.25,322.95 L523.50,322.94 L523.75,322.94 L524.00,322.94 L524.25,322.94 L524.50,322.94 L524.75,322.94 L525.00,322.94 L525.25,322.93 L525.50,322.93 L525.75,322.93 L526.00,322.93 L526.25,322.93 L526.50,322.93 L526.75,322.92 L527.00,322.92 L527.25,322.92 L527.50,322.92 L527.75,322.91 L528.00,322.91 L528.25,322.91 L528.50,322.91 L528.75,322.91 L529.00,322.90 L529.25,322.90 L529.50,322.90 L529.75,322.89 L530.00,322.89 L530.25,322.89 L530.50,322.89 L530.75,322.88 L531.00,322.88 L531.25,322.88 L531.50,322.87 L531.75,322.87 L532.00,322.86 L532.25,322.86 L532.50,322.86 L532.75,322.85 L533.00,322.85 L533.25,322.84 L533.50,322.84 L533.75,322.83 L534.00,322.83 L534.25,322.82 L534.50,322.82 L534.75,322.81 L535.00,322.80 L535.25,322.80 L535.50,322.79 L535.75,322.78 L536.00,322.78 L536.25,322.77 L536.50,322.76 L536.75,322.75 L537.00,322.74 L537.25,322.73 L537.50,322.73 L537.75,322.72 L538.00,322.71 L538.25,322.69 L538.50,322.68 L538.75,322.67 L539.00,322.66 L539.25,322.65 L539.50,322.63 L539.75,322.62 L540.00,322.61 L540.25,322.59 L540.50,322.57 L540.75,322.56 L541.00,322.54 L541.25,322.52 L541.50,322.50 L541.75,322.48 L542.00,322.46 L542.25,322.44 L542.50,322.42 L542.75,322.39 L543.00,322.37 L543.25,322.34 L543.50,322.31 L543.75,322.28 L544.00,322.25 L544.25,322.21 L544.50,322.18 L544.75,322.14 L545.00,322.10 L545.25,322.06 L545.50,322.01 L545.75,321.97 L546.00,321.92 L546.25,321.86 L546.50,321.81 L546.75,321.75 L547.00,321.68 L547.25,321.62 L547.50,321.55 L547.75,321.47 L548.00,321.39 L548.25,321.31 L548.50,321.21 L548.75,321.12 L549.00,321.01 L549.25,320.90 L549.50,320.78 L549.75,320.66 L550.00,320.52 L550.25,320.38 L550.50,320.22 L550.75,320.06 L551.00,319.88 L551.25,319.69 L551.50,319.48 L551.75,319.26 L552.00,319.02 L552.25,318.76 L552.50,318.49 L552.75,318.19 L553.00,317.87 L553.25,317.52 L553.50,317.14 L553.75,316.73 L554.00,316.29 L554.25,315.81 L554.50,315.29 L554.75,314.73 L555.00,314.12 L555.25,313.45 L555.50,312.72 L555.75,311.93 L556.00,311.06 L556.25,310.12 L556.50,309.09 L556.75,307.96 L557.00,306.72 L557.25,305.36 L557.50,303.88 L557.75,302.25 L558.00,300.46 L558.25,298.49 L558.50,296.32 L558.75,293.94 L559.00,291.31 L559.25,288.42 L559.50,285.22 L559.75,281.70 L560.00,277.81 L560.25,273.51 L560.50,268.77 L560.75,263.53 L561.00,257.74 L561.25,251.35 L561.50,244.31 L561.75,236.55 L562.00,228.03 L562.25,218.71 L562.50,208.57 L562.75,197.64 L563.00,186.02 L563.25,173.91 L563.50,161.71 L563.75,150.07 L564.00,139.89 L564.25,132.30 L564.50,128.41 L564.75,128.85 L565.00,133.56 L565.25,141.75 L565.50,152.31 L565.75,164.13 L566.00,176.35 L566.25,188.39 L566.50,199.89 L566.75,210.67 L567.00,220.64 L567.25,229.80 L567.50,238.16 L567.75,245.77 L568.00,252.68 L568.25,258.94 L568.50,264.62 L568.75,269.75 L569.00,274.41 L569.25,278.62 L569.50,282.43 L569.75,285.89 L570.00,289.02 L570.25,291.86 L570.50,294.43 L570.75,296.77 L571.00,298.90 L571.25,300.83 L571.50,302.59 L571.75,304.19 L572.00,305.65 L572.25,306.98 L572.50,308.19 L572.75,309.30 L573.00,310.31 L573.25,311.24 L573.50,312.09 L573.75,312.87 L574.00,313.59 L574.25,314.24 L574.50,314.85 L574.75,315.40 L575.00,315.91 L575.25,316.38 L575.50,316.82 L575.75,317.22 L576.00,317.59 L576.25,317.93 L576.50,318.25 L576.75,318.54 L577.00,318.82 L577.25,319.07 L577.50,319.30 L577.75,319.52 L578.00,319.73 L578.25,319.91 L578.50,320.09 L578.75,320.25 L579.00,320.41 L579.25,320.55 L579.50,320.68 L579.75,320.81 L580.00,320.92 L580.25,321.03 L580.50,321.14 L580.75,321.23 L581.00,321.32 L581.25,321.41 L581.50,321.49 L581.75,321.56 L582.00,321.63 L582.25,321.70 L582.50,321.76 L582.75,321.82 L583.00,321.87 L583.25,321.93 L583.50,321.98 L583.75,322.02 L584.00,322.07 L584.25,322.11 L584.50,322.15 L584.75,322.18 L585.00,322.22 L585.25,322.25 L585.50,322.28 L585.75,322.31 L586.00,322.34 L586.25,322.37 L586.50,322.40 L586.75,322.42 L587.00,322.44 L587.25,322.47 L587.50,322.49" stroke="#ff00ff" stroke-opacity="0.5" stroke-width="2" fill="none"/><path d="M101.35,437.1v-19M101.35,62.5v19M133.87,437.1v-10M133.87,62.5v10M166.38,437.1v-10M166.38,62.5v10M198.89,437.1v-10M198.89,62.5v10M231.41,437.1v-10M231.41,62.5v10M263.92,437.1v-19M263.92,62.5v19M296.44,437.1v-10M296.44,62.5v10M328.95,437.1v-10M328.95,62.5v10M361.47,437.1v-10M361.47,62.5v10M393.99,437.1v-10M393.99,62.5v10M426.50,437.1v-19M426.50,62.5v19M459.01,437.1v-10M459.01,62.5v10M491.53,437.1v-10M491.53,62.5v10M524.04,437.1v-10M524.04,62.5v10M556.56,437.1v-10M556.56,62.5v10M87.5,63.80h19M587.5,63.80h-19M87.5,80.04h10M587.5,80.04h-10M87.5,96.28h10M587.5,96.28h-10M87.5,112.52h10M587.5,112.52h-10M87.5,128.76h10M587.5,128.76h-10M87.5,145.00h19M587.5,145.00h-19M87.5,161.24h10M587.5,161.24h-10M87.5,177.48h10M587.5,177.48h-10M87.5,193.72h10M587.5,193.72h-10M87.5,209.96h10M587.5,209.96h-10M87.5,226.20h19M587.5,226.20h-19M87.5,242.44h10M587.5,242.44h-10M87.5,258.68h10M587.5,258.68h-10M87.5,274.92h10M587.5,274.92h-10M87.5,291.16h10M587.5,291.16h-10M87.5,307.40h19M587.5,307.40h-19M87.5,323.64h10M587.5,323.64h-10M87.5,339.88h10M587.5,339.88h-10M87.5,356.12h10M587.5,356.12h-10M87.5,372.36h10M587.5,372.36h-10M87.5,388.60h19M587.5,388.60h-19M87.5,404.84h10M587.5,404.84h-10M87.5,421.08h10M587.5,421.08h-10" stroke="#000" stroke-width="1.1" fill="none"/><path d="M87.5,437.70000000000005V62.5H587.5V437.70000000000005" stroke="#000" stroke-width="1.3" fill="none"/><path d="M86.85,437.1H588.15" stroke="#000" stroke-width="1.2" fill="none"/><g style="filter:grayscale(1)"><text transform="translate(41.36,71.00) scale(1.07,1)" font-size="19.5">17.5</text><text transform="translate(56.87,152.20) scale(1.07,1)" font-size="19.5">18</text><text transform="translate(41.36,233.40) scale(1.07,1)" font-size="19.5">18.5</text><text transform="translate(56.87,314.60) scale(1.07,1)" font-size="19.5">19</text><text transform="translate(41.36,395.80) scale(1.07,1)" font-size="19.5">19.5</text><text transform="translate(80.48,463.0) scale(1.07,1)" font-size="19.5">8000</text><text transform="translate(243.06,463.0) scale(1.07,1)" font-size="19.5">9000</text><text transform="translate(400.18,463.0) scale(1.07,1)" font-size="19.5">10000</text><text transform="translate(244.78,41.1) scale(1.043,1)" font-size="19.5">OGLE-2025-DG-0014</text><text transform="translate(273.04,492.2) scale(1.06,1)" font-size="19.5">HJD - 2450000</text><text transform="translate(27,302.2) rotate(-90) scale(1.125,1)" font-size="19.5">I magnitude</text></g></svg></body></html>
